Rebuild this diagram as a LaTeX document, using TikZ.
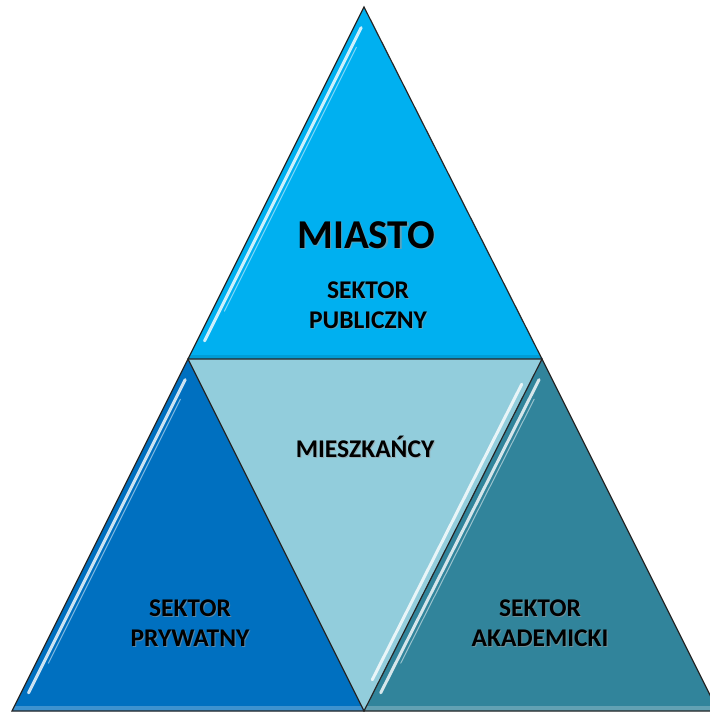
\documentclass[tikz,border=0pt]{standalone}
\usepackage{fontspec}
\setmainfont{Carlito}
\usetikzlibrary{calc}
\definecolor{cTop}{HTML}{00B0F0}
\definecolor{cLeft}{HTML}{0070C0}
\definecolor{cMid}{HTML}{92CDDC}
\definecolor{cRight}{HTML}{31849B}
\tikzset{
  tri/.style={draw=black!85, line width=1.2pt, line join=miter},
  gloss/.style={draw=white, line width=3pt, opacity=0.8, line cap=round},
  glossthin/.style={draw=white, line width=1pt, opacity=0.5, line cap=round},
  lbl/.style={font=\bfseries\fontsize{25.5}{30}\selectfont, align=center, text=black},
  big/.style={font=\bfseries\fontsize{41}{44}\selectfont, text=black},
  shd/.style={text=black!40, opacity=0.6},
}
\begin{document}
\begin{tikzpicture}[x=1pt,y=-1pt]
\useasboundingbox (0,0) rectangle (709,714);
\coordinate (A) at (364,7);
\coordinate (L) at (188,359);
\coordinate (R) at (542,359);
\coordinate (BL) at (12,711);
\coordinate (BM) at (364,711);
\coordinate (BR) at (718,711);
% triangles
\fill[cTop] (A) -- (L) -- (R) -- cycle;
\fill[cLeft] (L) -- (BL) -- (BM) -- cycle;
\fill[cMid] (L) -- (R) -- (BM) -- cycle;
\fill[cRight] (R) -- (BM) -- (BR) -- cycle;
% bottom bevel strips
\fill[cTop!70!black, opacity=0.35] ($(L)+(3,-4)$) -- ($(R)+(-3,-4)$) -- (R) -- (L) -- cycle;
\fill[cLeft!60!white, opacity=0.6] ($(BL)+(2,-5)$) -- ($(BM)+(-2,-5)$) -- (BM) -- (BL) -- cycle;
\fill[cRight!60!white, opacity=0.6] ($(BM)+(2,-5)$) -- ($(BR)+(-2,-5)$) -- (BR) -- (BM) -- cycle;
% gloss highlights
\draw[gloss] ($(A)!0.05!(L)+(6,3)$) -- ($(A)!0.94!(L)+(6,3)$);
\draw[glossthin] ($(A)!0.10!(L)+(10,5)$) -- ($(A)!0.85!(L)+(10,5)$);
\draw[gloss] ($(L)!0.05!(BL)+(6,3)$) -- ($(L)!0.94!(BL)+(6,3)$);
\draw[glossthin] ($(L)!0.10!(BL)+(10,5)$) -- ($(L)!0.85!(BL)+(10,5)$);
\draw[gloss] ($(R)!0.08!(BM)+(-6,-3)$) -- ($(R)!0.92!(BM)+(-6,-3)$);
\draw[gloss] ($(R)!0.05!(BM)+(6,3)$) -- ($(R)!0.94!(BM)+(6,3)$);
\draw[glossthin] ($(R)!0.10!(BM)+(10,5)$) -- ($(R)!0.85!(BM)+(10,5)$);
% outlines
\draw[tri] (A) -- (L) -- (R) -- cycle;
\draw[tri] (L) -- (BL) -- (BM) -- cycle;
\draw[tri] (R) -- (BM) -- (BR) -- cycle;
% label shadows
\node[big,shd] at (367.2,236.2) {MIASTO};
\node[lbl,shd] at (369,306) {SEKTOR\\PUBLICZNY};
\node[lbl,shd] at (366,448) {MIESZKAŃCY};
\node[lbl,shd] at (191,624) {SEKTOR\\PRYWATNY};
\node[lbl,shd] at (541,624) {SEKTOR\\AKADEMICKI};
% labels
\node[big] (miasto) at (366,235) {MIASTO};
\node[lbl] (pub) at (368,305) {SEKTOR\\PUBLICZNY};
\node[lbl] (mie) at (365,447) {MIESZKAŃCY};
\node[lbl] (pry) at (190,623) {SEKTOR\\PRYWATNY};
\node[lbl] (aka) at (540,623) {SEKTOR\\AKADEMICKI};
\end{tikzpicture}
\end{document}
